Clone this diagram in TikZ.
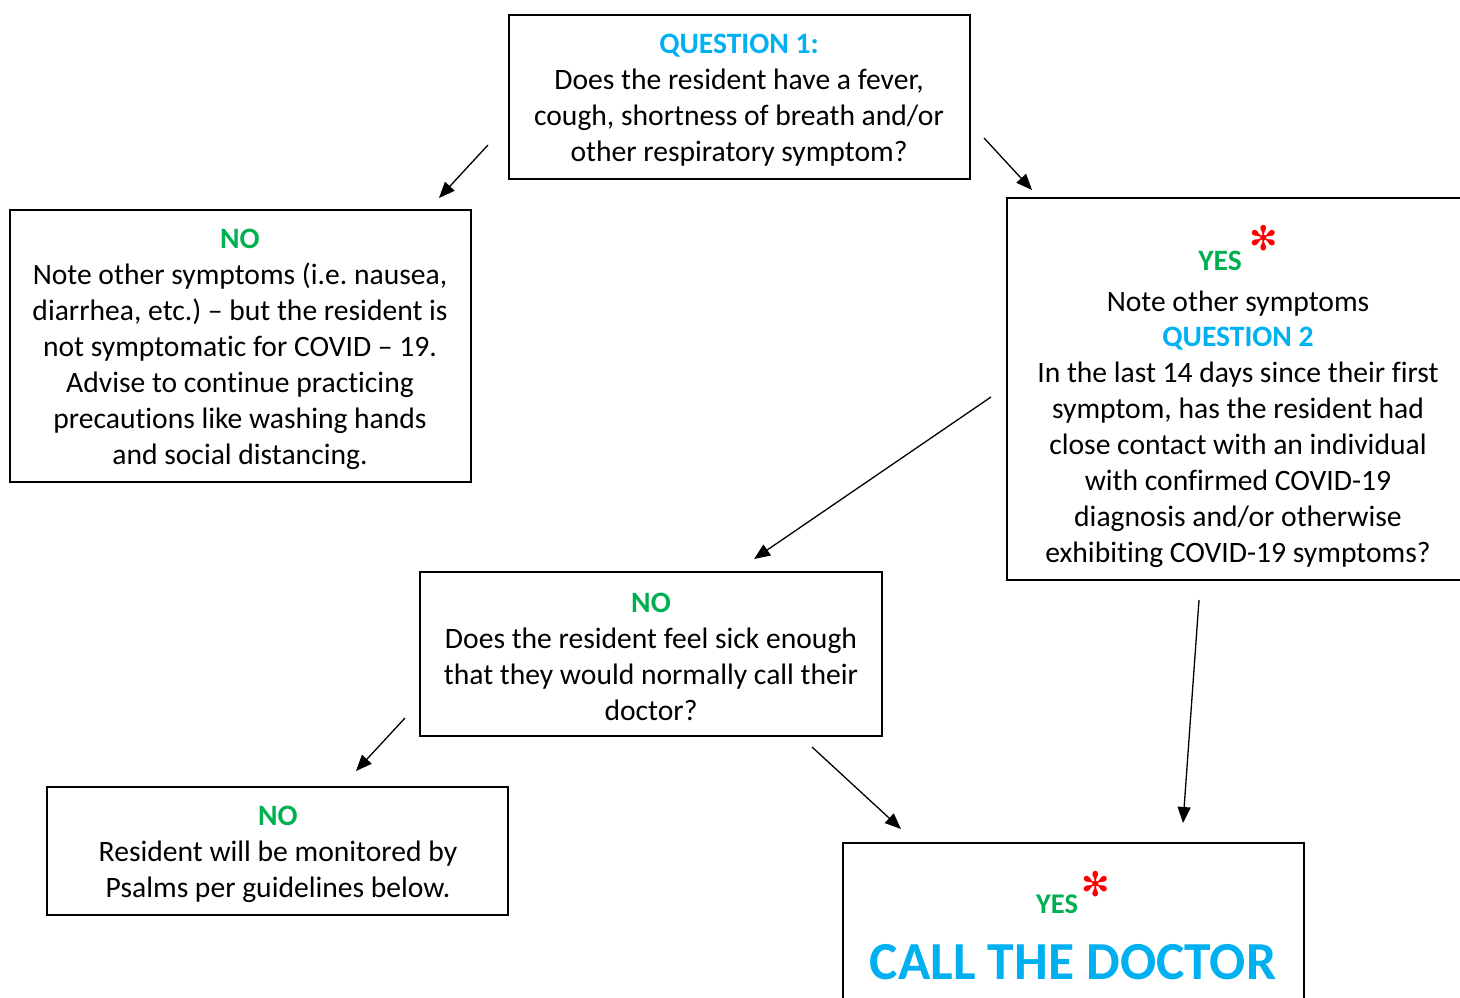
\documentclass[tikz,border=0pt]{standalone}
\usepackage{fontspec}
\setmainfont{Carlito}[Ligatures={NoCommon}]
\newfontfamily\symfont{DejaVu Sans}
\usetikzlibrary{arrows.meta}
\frenchspacing
\definecolor{qblue}{HTML}{00B0F0}
\definecolor{ygreen}{HTML}{00B050}
\definecolor{ared}{HTML}{FF0000}
\tikzset{
  box/.style={draw=black, line width=1.8pt, inner sep=0pt, fill=white},
  txt/.style={align=center, inner sep=0pt, font=\fontsize{29.6pt}{35.9pt}\selectfont\frenchspacing},
  lbl/.style={inner sep=0pt, font=\fontsize{29.6pt}{35.9pt}\selectfont\bfseries},
  star/.style={inner sep=0pt, text=ared, font=\fontsize{34pt}{34pt}\symfont},
  arr/.style={line width=1.3pt, -{Triangle[length=16pt,width=13pt]}}
}
\begin{document}
\begin{tikzpicture}[x=1pt,y=-1pt]
\useasboundingbox (0,0) rectangle (1460,998);
\clip (0,0) rectangle (1460,998);
% boxes
\node[box, minimum width=461pt, minimum height=164pt] (q1) at (739.5,97) {};
\node[box, minimum width=461pt, minimum height=272pt] (noA) at (240.5,346) {};
\node[box, minimum width=470pt, minimum height=382pt] (yesA) at (1242,389) {};
\node[box, minimum width=462pt, minimum height=164pt] (noB) at (651,654) {};
\node[box, minimum width=461pt, minimum height=128pt] (noC) at (277.5,851) {};
\node[box, minimum width=461pt, minimum height=200pt] (call) at (1073.5,943) {};
% texts
\node[txt] (q1t) at (739,100) {\textbf{\textcolor{qblue}{QUESTION 1:}}\\Does the resident have a fever,\\cough, shortness of breath and/or\\other respiratory symptom?};
\node[txt] (noAt) at (240,349.5) {\textbf{\textcolor{ygreen}{NO}}\\Note other symptoms (i.e. nausea,\\diarrhea, etc.) -- but the resident is\\not symptomatic for COVID -- 19.\\Advise to continue practicing\\precautions like washing hands\\and social distancing.};
\node[lbl, text=ygreen] (yesAl) at (1220,261) {YES};
\node[star] (yesAs) at (1264,238) {✻};
\node[txt] (yesAt) at (1238,429) {Note other symptoms\\\textbf{\textcolor{qblue}{QUESTION 2}}\\In the last 14 days since their first\\symptom, has the resident had\\close contact with an individual\\with confirmed COVID-19\\diagnosis and/or otherwise\\exhibiting COVID-19 symptoms?};
\node[txt] (noBt) at (651,657) {\textbf{\textcolor{ygreen}{NO}}\\Does the resident feel sick enough\\that they would normally call their\\doctor?};
\node[txt] (noCt) at (278,854) {\textbf{\textcolor{ygreen}{NO}}\\Resident will be monitored by\\Psalms per guidelines below.};
\node[lbl, text=ygreen, font=\fontsize{28.5pt}{34pt}\selectfont\bfseries] (callY) at (1057,904) {YES};
\node[star] (callS) at (1096,884) {✻};
\node[inner sep=0pt, text=qblue, font=\fontsize{53.5pt}{60pt}\selectfont\bfseries] (callT) at (1073,962) {CALL THE DOCTOR};
% arrow coordinates
\coordinate (a1s) at (488,145); \coordinate (a1e) at (439,198);
\coordinate (a2s) at (984,138); \coordinate (a2e) at (1032,190);
\coordinate (a3s) at (991,397); \coordinate (a3e) at (754,559);
\coordinate (a4s) at (405,718); \coordinate (a4e) at (356,771);
\coordinate (a5s) at (812,747); \coordinate (a5e) at (901,829);
\coordinate (a6s) at (1199,600); \coordinate (a6e) at (1183,823);
\draw[arr] (a1s) -- (a1e);
\draw[arr] (a2s) -- (a2e);
\draw[arr] (a3s) -- (a3e);
\draw[arr] (a4s) -- (a4e);
\draw[arr] (a5s) -- (a5e);
\draw[arr] (a6s) -- (a6e);
\end{tikzpicture}
\end{document}
